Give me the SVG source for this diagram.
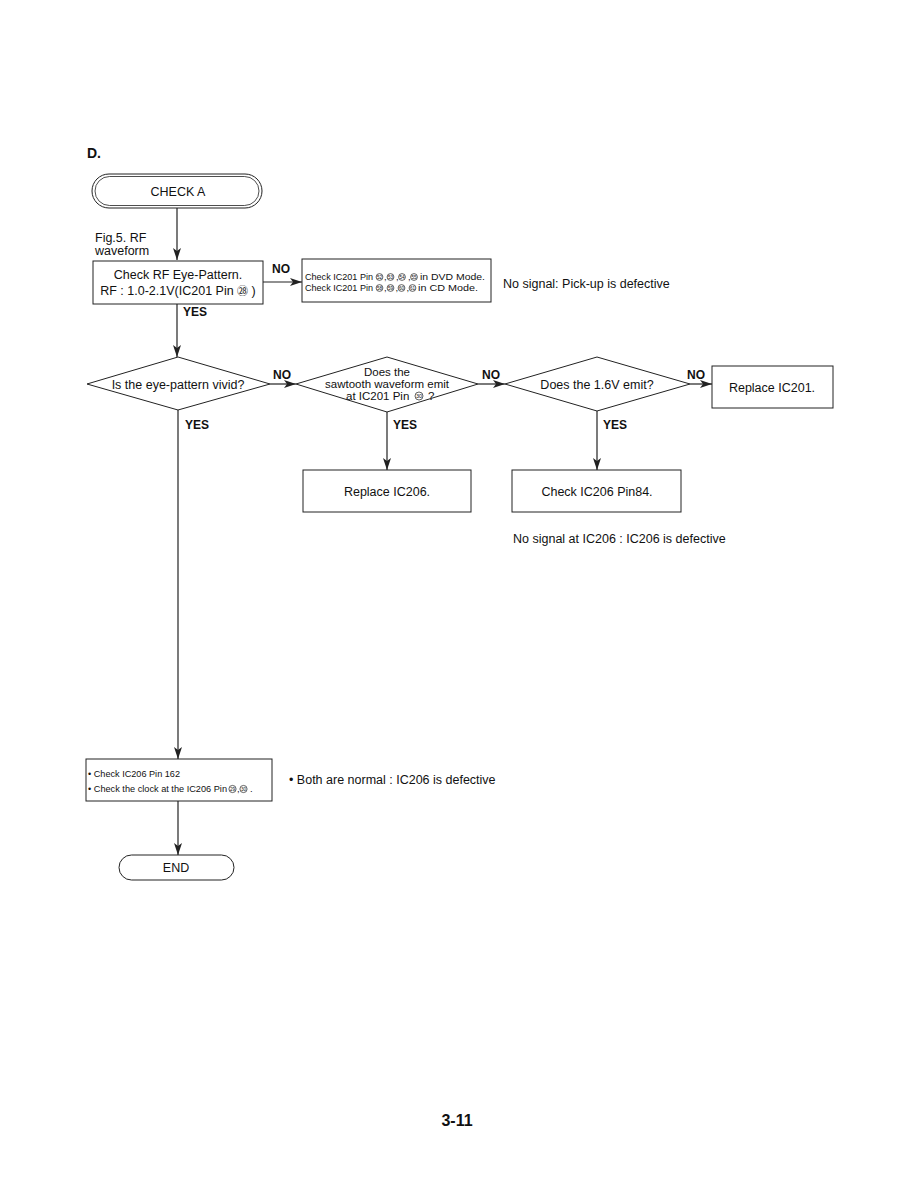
<svg xmlns="http://www.w3.org/2000/svg" width="918" height="1192" viewBox="0 0 918 1192">
<defs>
<style>
.t{font-family:"Liberation Sans",Arial,sans-serif;font-size:12.5px;fill:#111}
.s{font-family:"Liberation Sans",Arial,sans-serif;font-size:9.5px;fill:#111}
.c{font-family:"Noto Sans CJK JP","DejaVu Sans",sans-serif}
.b{font-family:"Liberation Sans",Arial,sans-serif;font-size:12px;font-weight:bold;fill:#111}
.m{text-anchor:middle}
.box{fill:#fff;stroke:#222;stroke-width:1}
.ln{fill:none;stroke:#222;stroke-width:1.2}
.ci{fill:none;stroke:#222;stroke-width:0.7}
.cn{font-family:"Liberation Sans",Arial,sans-serif;font-size:4.6px;fill:#111;text-anchor:middle}
</style>
<marker id="ar" viewBox="0 0 12 8" refX="12" refY="4" markerWidth="12" markerHeight="8" markerUnits="userSpaceOnUse" orient="auto">
<path d="M0,0 L12,4 L0,8 L3,4 Z" fill="#222"/>
</marker>
</defs>
<rect width="918" height="1192" fill="#fff"/>
<text x="87" y="158" class="b" style="font-size:14px">D.</text>

<g id="connectors">
<line x1="177" y1="208" x2="177" y2="260" class="ln" marker-end="url(#ar)"/>
<line x1="263" y1="282" x2="302" y2="282" class="ln" marker-end="url(#ar)"/>
<line x1="177" y1="304" x2="177" y2="357" class="ln" marker-end="url(#ar)"/>
<line x1="270" y1="384" x2="296" y2="384" class="ln" marker-end="url(#ar)"/>
<line x1="478" y1="384" x2="505" y2="384" class="ln" marker-end="url(#ar)"/>
<line x1="690" y1="384" x2="712" y2="384" class="ln" marker-end="url(#ar)"/>
<line x1="178" y1="410" x2="178" y2="759" class="ln" marker-end="url(#ar)"/>
<line x1="387" y1="412" x2="387" y2="470" class="ln" marker-end="url(#ar)"/>
<line x1="597" y1="411" x2="597" y2="470" class="ln" marker-end="url(#ar)"/>
<line x1="178" y1="801" x2="178" y2="855" class="ln" marker-end="url(#ar)"/>
<text x="272" y="273" class="b">NO</text>
<text x="183" y="316" class="b">YES</text>
<text x="273" y="379" class="b">NO</text>
<text x="482" y="379" class="b">NO</text>
<text x="687" y="379" class="b">NO</text>
<text x="185" y="429" class="b">YES</text>
<text x="393" y="429" class="b">YES</text>
<text x="603" y="429" class="b">YES</text>
</g>

<g id="checkA">
<rect x="92" y="174" width="170" height="34" rx="17" class="box" stroke-width="1.3"/>
<rect x="95" y="176.5" width="164" height="29" rx="14.5" fill="none" stroke="#222" stroke-width="0.8"/>
<text x="178" y="196" class="t m">CHECK A</text>
</g>

<g id="figlabel">
<text x="95" y="242" class="t">Fig.5. RF</text>
<text x="95" y="255" class="t">waveform</text>
</g>

<g id="box1">
<rect x="93" y="261" width="170" height="43" class="box"/>
<text x="178" y="279" class="t m">Check RF Eye-Pattern.</text>
<text x="178" y="295" class="t m">RF : 1.0-2.1V(IC201 Pin <tspan class="c" style="font-size:11px">㉘</tspan> )</text>
</g>

<g id="box2">
<rect x="302" y="259" width="189" height="43" class="box"/>
<text x="305" y="280" class="s" textLength="68" lengthAdjust="spacingAndGlyphs">Check IC201 Pin</text>
<circle cx="379.5" cy="277" r="3.4" class="ci"/><text x="379.5" y="278.7" class="cn">52</text>
<text x="384" y="280" class="s">,</text>
<circle cx="390.5" cy="277" r="3.4" class="ci"/><text x="390.5" y="278.7" class="cn">53</text>
<text x="396" y="280" class="s">,</text>
<circle cx="402" cy="277" r="3.4" class="ci"/><text x="402" y="278.7" class="cn">54</text>
<text x="408" y="280" class="s">,</text>
<circle cx="414" cy="277" r="3.4" class="ci"/><text x="414" y="278.7" class="cn">55</text>
<text x="420" y="280" class="s" textLength="65" lengthAdjust="spacingAndGlyphs">in DVD Mode.</text>
<text x="305" y="291" class="s" textLength="68" lengthAdjust="spacingAndGlyphs">Check IC201 Pin</text>
<circle cx="379.5" cy="288" r="3.4" class="ci"/><text x="379.5" y="289.7" class="cn">58</text>
<text x="384" y="291" class="s">,</text>
<circle cx="390.5" cy="288" r="3.4" class="ci"/><text x="390.5" y="289.7" class="cn">59</text>
<text x="395.5" y="291" class="s">,</text>
<circle cx="401.5" cy="288" r="3.4" class="ci"/><text x="401.5" y="289.7" class="cn">60</text>
<text x="406.5" y="291" class="s">,</text>
<circle cx="412.5" cy="288" r="3.4" class="ci"/><text x="412.5" y="289.7" class="cn">61</text>
<text x="418" y="291" class="s" textLength="60" lengthAdjust="spacingAndGlyphs">in CD Mode.</text>
</g>
<g id="note1"><text x="503" y="288" class="t">No signal: Pick-up is defective</text></g>

<g id="diamond1">
<polygon points="87,384 178,357 270,384 178,410" class="box"/>
<text x="178" y="389" class="t m">Is the eye-pattern vivid?</text>
</g>
<g id="diamond2">
<polygon points="296,384 387,357 478,384 387,412" class="box"/>
<text x="387" y="376" class="t m" style="font-size:11.5px">Does the</text>
<text x="387" y="388" class="t m" style="font-size:11.5px">sawtooth waveform emit</text>
<text x="346" y="400" class="t" style="font-size:11.5px">at IC201 Pin</text>
<circle cx="419" cy="396" r="4" class="ci"/><text x="419" y="398" class="cn" style="font-size:5.5px">30</text>
<text x="428" y="400" class="t" style="font-size:11.5px">?</text>
</g>
<g id="diamond3">
<polygon points="505,384 597,357 690,384 597,411" class="box"/>
<text x="597" y="389" class="t m">Does the 1.6V emit?</text>
</g>
<g id="replace201">
<rect x="712" y="366" width="121" height="42" class="box"/>
<text x="772" y="392" class="t m">Replace IC201.</text>
</g>
<g id="replace206">
<rect x="303" y="470" width="168" height="42" class="box"/>
<text x="387" y="496" class="t m">Replace IC206.</text>
</g>
<g id="check84">
<rect x="512" y="470" width="169" height="42" class="box"/>
<text x="597" y="496" class="t m">Check IC206 Pin84.</text>
</g>
<g id="note2"><text x="513" y="543" class="t">No signal at IC206 : IC206 is defective</text></g>

<g id="box162">
<rect x="86" y="759" width="186" height="42" class="box"/>
<text x="88" y="777" class="s" textLength="92" lengthAdjust="spacingAndGlyphs">• Check IC206 Pin 162</text>
<text x="88" y="792" class="s" textLength="139" lengthAdjust="spacingAndGlyphs">• Check the clock at the IC206 Pin</text>
<circle cx="232.5" cy="789" r="3.6" class="ci"/><text x="232.5" y="790.7" class="cn">29</text>
<text x="237" y="792" class="s">,</text>
<circle cx="243.5" cy="789" r="3.6" class="ci"/><text x="243.5" y="790.7" class="cn">30</text>
<text x="250" y="792" class="s">.</text>
</g>
<g id="note3"><text x="289" y="784" class="t">• Both are normal : IC206 is defective</text></g>

<g id="end">
<rect x="119" y="855" width="115" height="25" rx="12.5" class="box"/>
<text x="176" y="872" class="t m">END</text>
</g>

<text x="457" y="1126" class="b m" style="font-size:16px">3-11</text>
</svg>
